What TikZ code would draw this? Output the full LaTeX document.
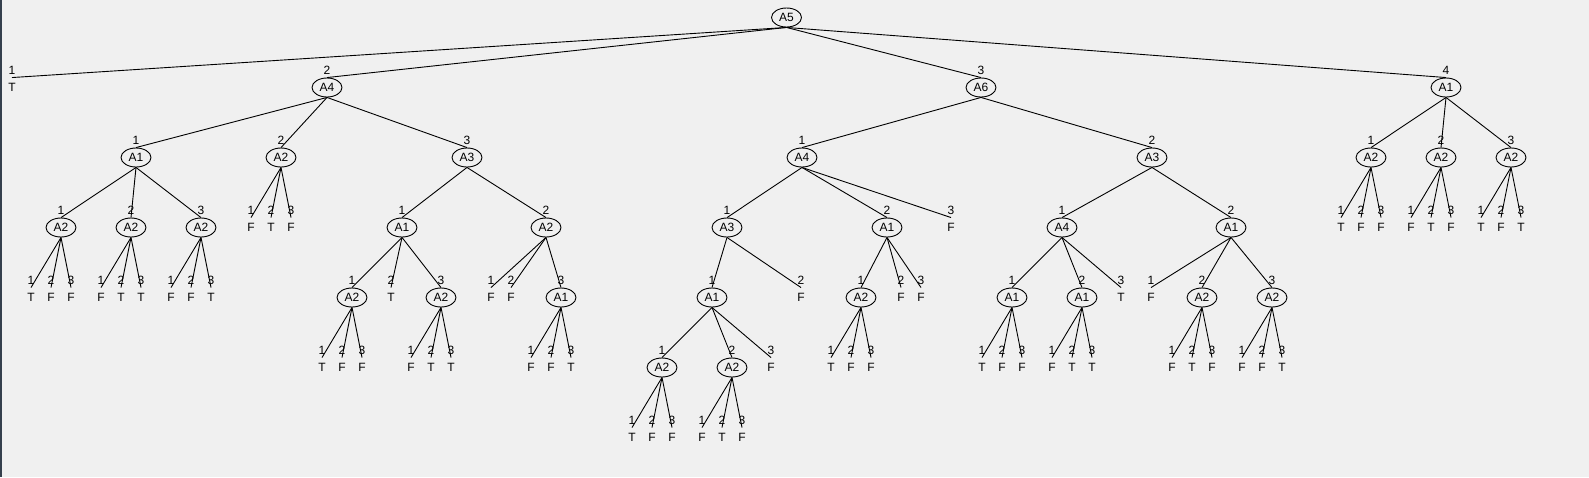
\documentclass[tikz,border=0pt]{standalone}
\usepackage{fontspec}
\setmainfont{Liberation Sans}
\usetikzlibrary{shapes.geometric}
\definecolor{bggray}{HTML}{F0F0F0}
\definecolor{edgegray}{HTML}{35404D}

\begin{document}
\begin{tikzpicture}[x=1pt, y=-1pt, line width=0.9pt, font=\fontsize{12}{13}\selectfont,
    label distance=2.2pt,
    var_node/.style={ellipse, draw=black, inner sep=0pt, minimum width=30pt, minimum height=19pt},
    leaf_node/.style={inner sep=0pt, minimum width=12pt, minimum height=19pt},
    num_label/.style={inner sep=0pt}]
  \fill[bggray] (0,0) rectangle (1589,477);
  \fill[edgegray] (0,0) rectangle (2,477);
  \useasboundingbox (0,0) rectangle (1589,477);

  \node[var_node] (r) at (786.5,17.5) {A5};
  % level 1
  \node[leaf_node, label={[num_label]above:1}] (r1) at (12,87.5) {T};
  \node[var_node, label={[num_label]above:2}] (r2) at (327,87.5) {A4};
  \node[var_node, label={[num_label]above:3}] (r3) at (981,87.5) {A6};
  \node[var_node, label={[num_label]above:4}] (r4) at (1446,87.5) {A1};
  % level 2
  \node[var_node, label={[num_label]above:1}] (r21) at (136,157.5) {A1};
  \node[var_node, label={[num_label]above:2}] (r22) at (281,157.5) {A2};
  \node[var_node, label={[num_label]above:3}] (r23) at (467,157.5) {A3};
  \node[var_node, label={[num_label]above:1}] (r31) at (802,157.5) {A4};
  \node[var_node, label={[num_label]above:2}] (r32) at (1152,157.5) {A3};
  \node[var_node, label={[num_label]above:1}] (r41) at (1371,157.5) {A2};
  \node[var_node, label={[num_label]above:2}] (r42) at (1441,157.5) {A2};
  \node[var_node, label={[num_label]above:3}] (r43) at (1511,157.5) {A2};
  % level 3
  \node[var_node, label={[num_label]above:1}] (r211) at (61,227.5) {A2};
  \node[var_node, label={[num_label]above:2}] (r212) at (131,227.5) {A2};
  \node[var_node, label={[num_label]above:3}] (r213) at (201,227.5) {A2};
  \node[var_node, label={[num_label]above:1}] (r231) at (402,227.5) {A1};
  \node[var_node, label={[num_label]above:2}] (r232) at (546,227.5) {A2};
  \node[var_node, label={[num_label]above:1}] (r311) at (727,227.5) {A3};
  \node[var_node, label={[num_label]above:2}] (r312) at (887,227.5) {A1};
  \node[leaf_node, label={[num_label]above:3}] (r313) at (951,227.5) {F};
  \node[var_node, label={[num_label]above:1}] (r321) at (1062,227.5) {A4};
  \node[var_node, label={[num_label]above:2}] (r322) at (1231,227.5) {A1};
  % level 4
  \node[var_node, label={[num_label]above:1}] (r2311) at (352,297.5) {A2};
  \node[leaf_node, label={[num_label]above:2}] (r2312) at (391,297.5) {T};
  \node[var_node, label={[num_label]above:3}] (r2313) at (441,297.5) {A2};
  \node[leaf_node, label={[num_label]above:1}] (r2321) at (491,297.5) {F};
  \node[leaf_node, label={[num_label]above:2}] (r2322) at (511,297.5) {F};
  \node[var_node, label={[num_label]above:3}] (r2323) at (561,297.5) {A1};
  \node[var_node, label={[num_label]above:1}] (r3111) at (712,297.5) {A1};
  \node[leaf_node, label={[num_label]above:2}] (r3112) at (801,297.5) {F};
  \node[var_node, label={[num_label]above:1}] (r3121) at (861,297.5) {A2};
  \node[leaf_node, label={[num_label]above:2}] (r3122) at (901,297.5) {F};
  \node[leaf_node, label={[num_label]above:3}] (r3123) at (921,297.5) {F};
  \node[var_node, label={[num_label]above:1}] (r3211) at (1012,297.5) {A1};
  \node[var_node, label={[num_label]above:2}] (r3212) at (1082,297.5) {A1};
  \node[leaf_node, label={[num_label]above:3}] (r3213) at (1121,297.5) {T};
  \node[leaf_node, label={[num_label]above:1}] (r3221) at (1151,297.5) {F};
  \node[var_node, label={[num_label]above:2}] (r3222) at (1202,297.5) {A2};
  \node[var_node, label={[num_label]above:3}] (r3223) at (1272,297.5) {A2};
  % level 5
  \node[var_node, label={[num_label]above:1}] (r31111) at (662,367.5) {A2};
  \node[var_node, label={[num_label]above:2}] (r31112) at (732,367.5) {A2};
  \node[leaf_node, label={[num_label]above:3}] (r31113) at (771,367.5) {F};

  \foreach \p/\c in {r/r1, r/r2, r/r3, r/r4, r2/r21, r2/r22, r2/r23, r3/r31, r3/r32,
      r4/r41, r4/r42, r4/r43, r21/r211, r21/r212, r21/r213, r23/r231, r23/r232,
      r31/r311, r31/r312, r31/r313, r32/r321, r32/r322,
      r231/r2311, r231/r2312, r231/r2313, r232/r2321, r232/r2322, r232/r2323,
      r311/r3111, r311/r3112, r312/r3121, r312/r3122, r312/r3123,
      r321/r3211, r321/r3212, r321/r3213, r322/r3221, r322/r3222, r322/r3223,
      r3111/r31111, r3111/r31112, r3111/r31113}
    \draw (\p.south) -- (\c.north);

  % three leaves under each of these
  \foreach \p/\x/\y/\a/\b/\c in {r22/281/157.5/F/T/F, r41/1371/157.5/T/F/F,
      r42/1441/157.5/F/T/F, r43/1511/157.5/T/F/T, r211/61/227.5/T/F/F,
      r212/131/227.5/F/T/T, r213/201/227.5/F/F/T, r2311/352/297.5/T/F/F,
      r2313/441/297.5/F/T/T, r2323/561/297.5/F/F/T, r3121/861/297.5/T/F/F,
      r3211/1012/297.5/T/F/F, r3212/1082/297.5/F/T/T, r3222/1202/297.5/F/T/F,
      r3223/1272/297.5/F/F/T, r31111/662/367.5/T/F/F, r31112/732/367.5/F/T/F}
  {
    \foreach \k/\v [count=\i] in {-30/\a, -10/\b, 10/\c} {
      \node[leaf_node, label={[num_label]above:\i}] (\p\i) at (\x+\k,\y+70) {\v};
      \draw (\p.south) -- (\p\i.north);
    }
  }
\end{tikzpicture}
\end{document}
